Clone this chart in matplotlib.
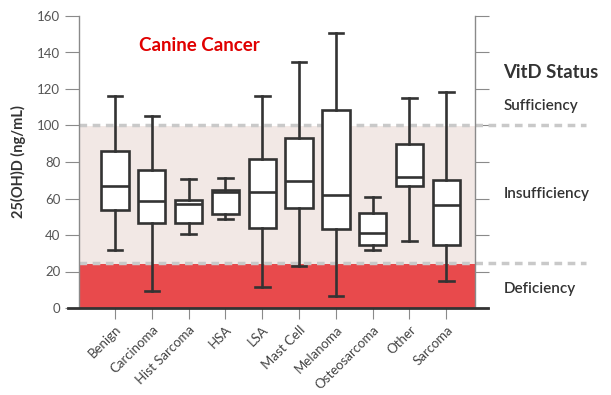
import matplotlib
matplotlib.use("Agg")
import matplotlib.pyplot as plt

plt.rcParams['font.family'] = ['Lato', 'DejaVu Sans']

# categories and box stats
cats = ["Benign", "Carcinoma", "Hist Sarcoma", "HSA", "LSA", "Mast Cell",
        "Melanoma", "Osteosarcoma", "Other", "Sarcoma"]
whislo = [31.8, 9.3, 40.7, 48.8, 11.3, 23.2, 6.7, 31.8, 36.9, 14.8]
q1     = [53.7, 46.4, 46.4, 51.5, 43.7, 54.6, 43.1, 34.5, 67.0, 34.5]
med    = [66.7, 58.5, 57.0, 63.6, 63.4, 69.6, 61.7, 40.9, 71.9, 56.4]
q3     = [86.2, 75.4, 59.2, 64.7, 81.6, 93.3, 108.5, 52.2, 89.7, 70.0]
whishi = [116.3, 105.2, 70.7, 71.0, 116.3, 134.8, 150.7, 61.0, 114.9, 118.2]

# VitD status thresholds
defic_top = 24
suff_line = 100
status_labels = ["Sufficiency", "Insufficiency", "Deficiency"]
status_y = [110.5, 62.5, 10.5]

fig = plt.figure(figsize=(6.11, 3.95), dpi=100)
ax = fig.add_axes([79 / 611, 1 - 308 / 395, 396 / 611, 292 / 395])

dark = "#333333"
gray = "#8a8a8a"

ax.axhspan(defic_top, suff_line, color="#f2e8e5", zorder=0, lw=0)
ax.axhspan(0, defic_top, color="#e84a4c", zorder=0, lw=0)

stats = [dict(label=c, whislo=a, q1=b, med=m, q3=d, whishi=e)
         for c, a, b, m, d, e in zip(cats, whislo, q1, med, q3, whishi)]
ax.bxp(stats, positions=range(len(cats)), widths=0.74, showfliers=False,
       patch_artist=True,
       boxprops=dict(facecolor="white", edgecolor=dark, linewidth=1.9),
       medianprops=dict(color=dark, linewidth=1.9),
       whiskerprops=dict(color=dark, linewidth=1.9),
       capprops=dict(color=dark, linewidth=1.9), capwidths=0.4,
       zorder=3)

# dashed status lines run past the axes to the right
for yv in [suff_line, defic_top + 0.6]:
    ax.plot([0, 507 / 396], [yv, yv], transform=ax.get_yaxis_transform(),
            color="#c9c9c9", lw=2.5, ls=(0, (2.2, 1.6)), clip_on=False, zorder=2)

ax.set_xlim(-0.98, 9.78)
ax.set_ylim(0, 160)
ax.set_yticks(range(0, 161, 20))
ax.set_xticks(range(len(cats)))
ax.set_xticklabels(cats, rotation=45, ha="right", rotation_mode="anchor",
                   fontsize=9.5, color="#444444")

for s in ["left", "right"]:
    ax.spines[s].set_color(gray)
    ax.spines[s].set_linewidth(1.0)
ax.spines["top"].set_visible(False)
ax.spines["bottom"].set_visible(False)
ax.plot([-11 / 396, 1 + 13 / 396], [0, 0], transform=ax.transAxes,
        color=dark, lw=2, clip_on=False, zorder=4)

ax.tick_params(axis="y", which="both", left=True, right=True, direction="out",
               length=10, color=gray, labelsize=9.5, labelcolor="#555555")
ax.tick_params(axis="x", length=8, color=gray, pad=3)

ax.set_ylabel("25(OH)D (ng/mL)", fontsize=10.5, fontweight="bold",
              color=dark, labelpad=8)

ax.text(0.152, 0.9, "Canine Cancer", transform=ax.transAxes, color="#e00000",
        fontsize=13.5, fontweight="bold", va="center")

fig.text(503 / 611, 1 - 73 / 395, "VitD Status", fontsize=13.3, fontweight="bold",
         color=dark, va="center")
for lab, yv in zip(status_labels, status_y):
    ax.text(1.072, yv, lab, transform=ax.get_yaxis_transform(), fontsize=11,
            color=dark, va="center", fontweight="semibold")

fig.savefig("out.png", dpi=100)
